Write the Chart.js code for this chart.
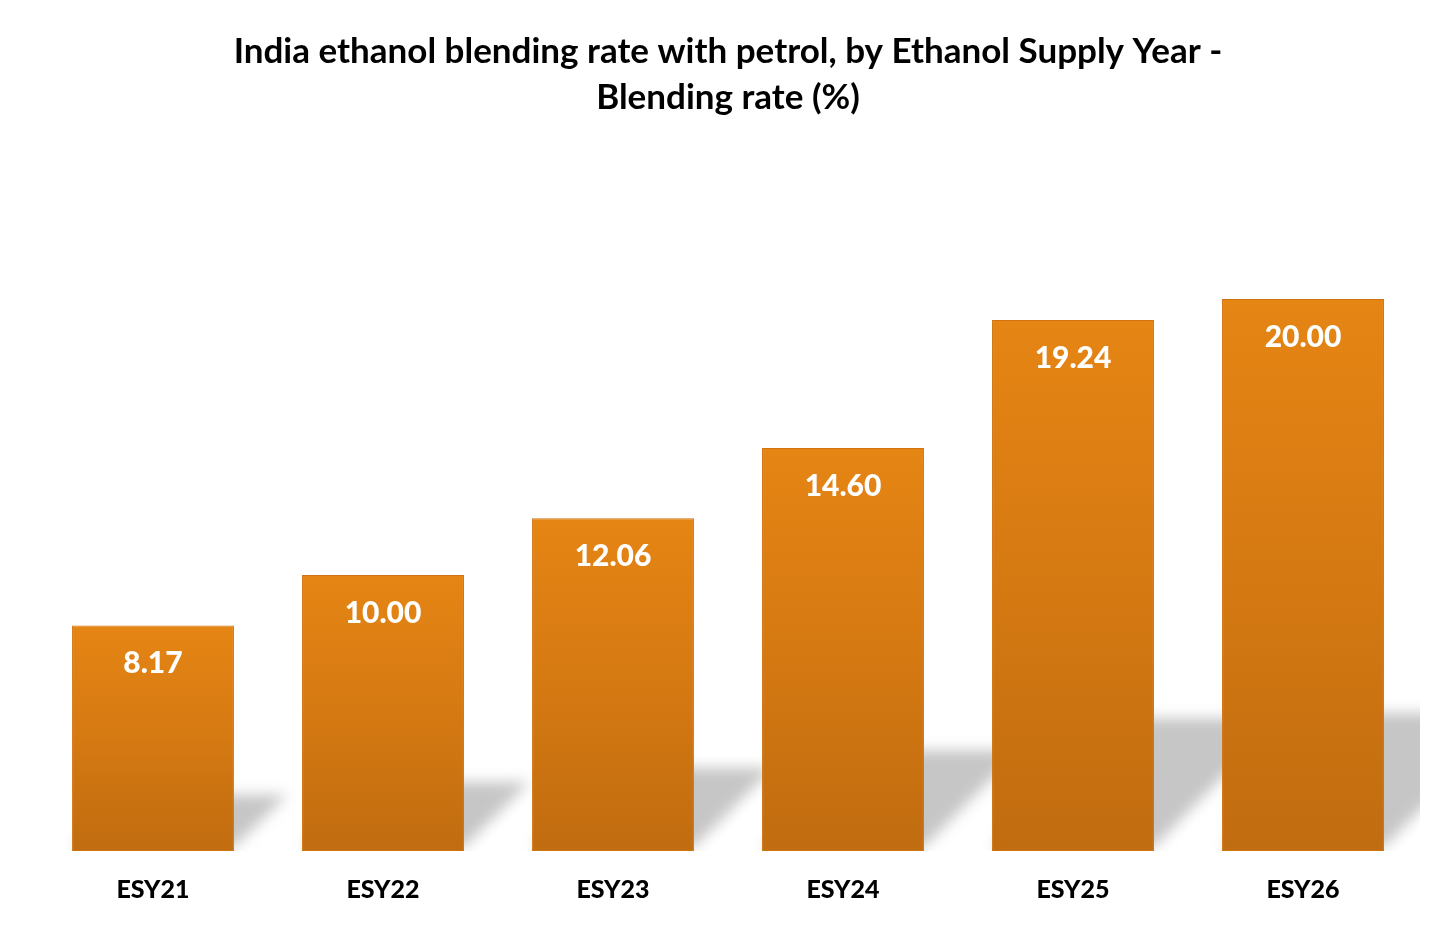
<!DOCTYPE html>
<html>
<head>
<meta charset="utf-8">
<title>India ethanol blending rate</title>
<script src="https://cdn.jsdelivr.net/npm/chart.js@4.4.1/dist/chart.umd.min.js"></script>
<style>
    html, body { margin: 0; padding: 0; background: #fff; }
    #wrap { width: 1456px; height: 931px; position: relative; }
</style>
</head>
<body>
<div id="wrap"><canvas id="blendChart"></canvas></div>
<script>
// data
const categories = ['ESY21', 'ESY22', 'ESY23', 'ESY24', 'ESY25', 'ESY26'];
const blendingRate = [8.17, 10.00, 12.06, 14.60, 19.24, 20.00];
const titleLines = ['India ethanol blending rate with petrol, by Ethanol Supply Year -', 'Blending rate (%)'];
const yAxisMax = 25;

const fontFamily = 'Lato, "Open Sans", sans-serif';

// grey perspective shadow thrown up and to the right behind each bar
const barShadow = {
    id: 'barShadow',
    beforeDatasetsDraw(chart) {
        const { ctx, chartArea } = chart;
        const meta = chart.getDatasetMeta(0);
        ctx.save();
        ctx.beginPath();
        ctx.rect(chartArea.left, chartArea.top, chartArea.right - chartArea.left + 2, chartArea.bottom - chartArea.top);
        ctx.clip();
        ctx.filter = 'blur(7px)';
        ctx.fillStyle = '#c6c6c6';
        meta.data.forEach(bar => {
            const x0 = bar.x - bar.width / 2;
            const x1 = bar.x + bar.width / 2;
            const d = (bar.base - bar.y) * 0.25;
            const k = 0.95;
            ctx.beginPath();
            ctx.moveTo(x0, bar.base - 4);
            ctx.lineTo(x1, bar.base - 4);
            ctx.lineTo(x1 + k * d, bar.base - d);
            ctx.lineTo(x0 + k * d, bar.base - d);
            ctx.closePath();
            ctx.fill();
        });
        ctx.restore();
    }
};

// white value labels inside the top of each bar
const valueLabels = {
    id: 'valueLabels',
    afterDatasetsDraw(chart) {
        const { ctx } = chart;
        const meta = chart.getDatasetMeta(0);
        ctx.save();
        ctx.fillStyle = '#ffffff';
        ctx.font = '900 30px ' + fontFamily;
        ctx.textAlign = 'center';
        ctx.textBaseline = 'middle';
        meta.data.forEach((bar, i) => {
            ctx.fillText(blendingRate[i].toFixed(2), bar.x, bar.y + 38);
        });
        ctx.restore();
    }
};

function barGradient(context) {
    const chart = context.chart;
    const { chartArea, scales } = chart;
    if (!chartArea || context.type !== 'data') {
        return '#d67a12';
    }
    const top = scales.y.getPixelForValue(context.raw);
    const g = chart.ctx.createLinearGradient(0, top, 0, chartArea.bottom);
    g.addColorStop(0, '#e58514');
    g.addColorStop(0.5, '#d57912');
    g.addColorStop(1, '#c06c10');
    return g;
}

new Chart(document.getElementById('blendChart'), {
    type: 'bar',
    plugins: [barShadow, valueLabels],
    data: {
        labels: categories,
        datasets: [{
            label: 'Blending rate (%)',
            data: blendingRate,
            backgroundColor: barGradient,
            borderColor: '#d07410',
            borderWidth: 1,
            borderSkipped: false,
            barPercentage: 0.704,
            categoryPercentage: 1.0
        }]
    },
    options: {
        responsive: true,
        maintainAspectRatio: false,
        animation: false,
        layout: {
            padding: { left: 38, right: 38, top: 0, bottom: 2 }
        },
        plugins: {
            legend: { display: false },
            tooltip: { enabled: false },
            title: {
                display: true,
                text: titleLines,
                color: '#000000',
                font: { family: fontFamily, size: 35, weight: 'bold', lineHeight: 1.314 },
                padding: { top: 29, bottom: 40 }
            }
        },
        scales: {
            x: {
                grid: { display: false, drawTicks: false },
                border: { display: false },
                ticks: {
                    color: '#000000',
                    padding: 24,
                    font: { family: fontFamily, size: 25, weight: '900' }
                }
            },
            y: {
                display: false,
                min: 0,
                max: yAxisMax
            }
        }
    }
});
</script>
</body>
</html>
